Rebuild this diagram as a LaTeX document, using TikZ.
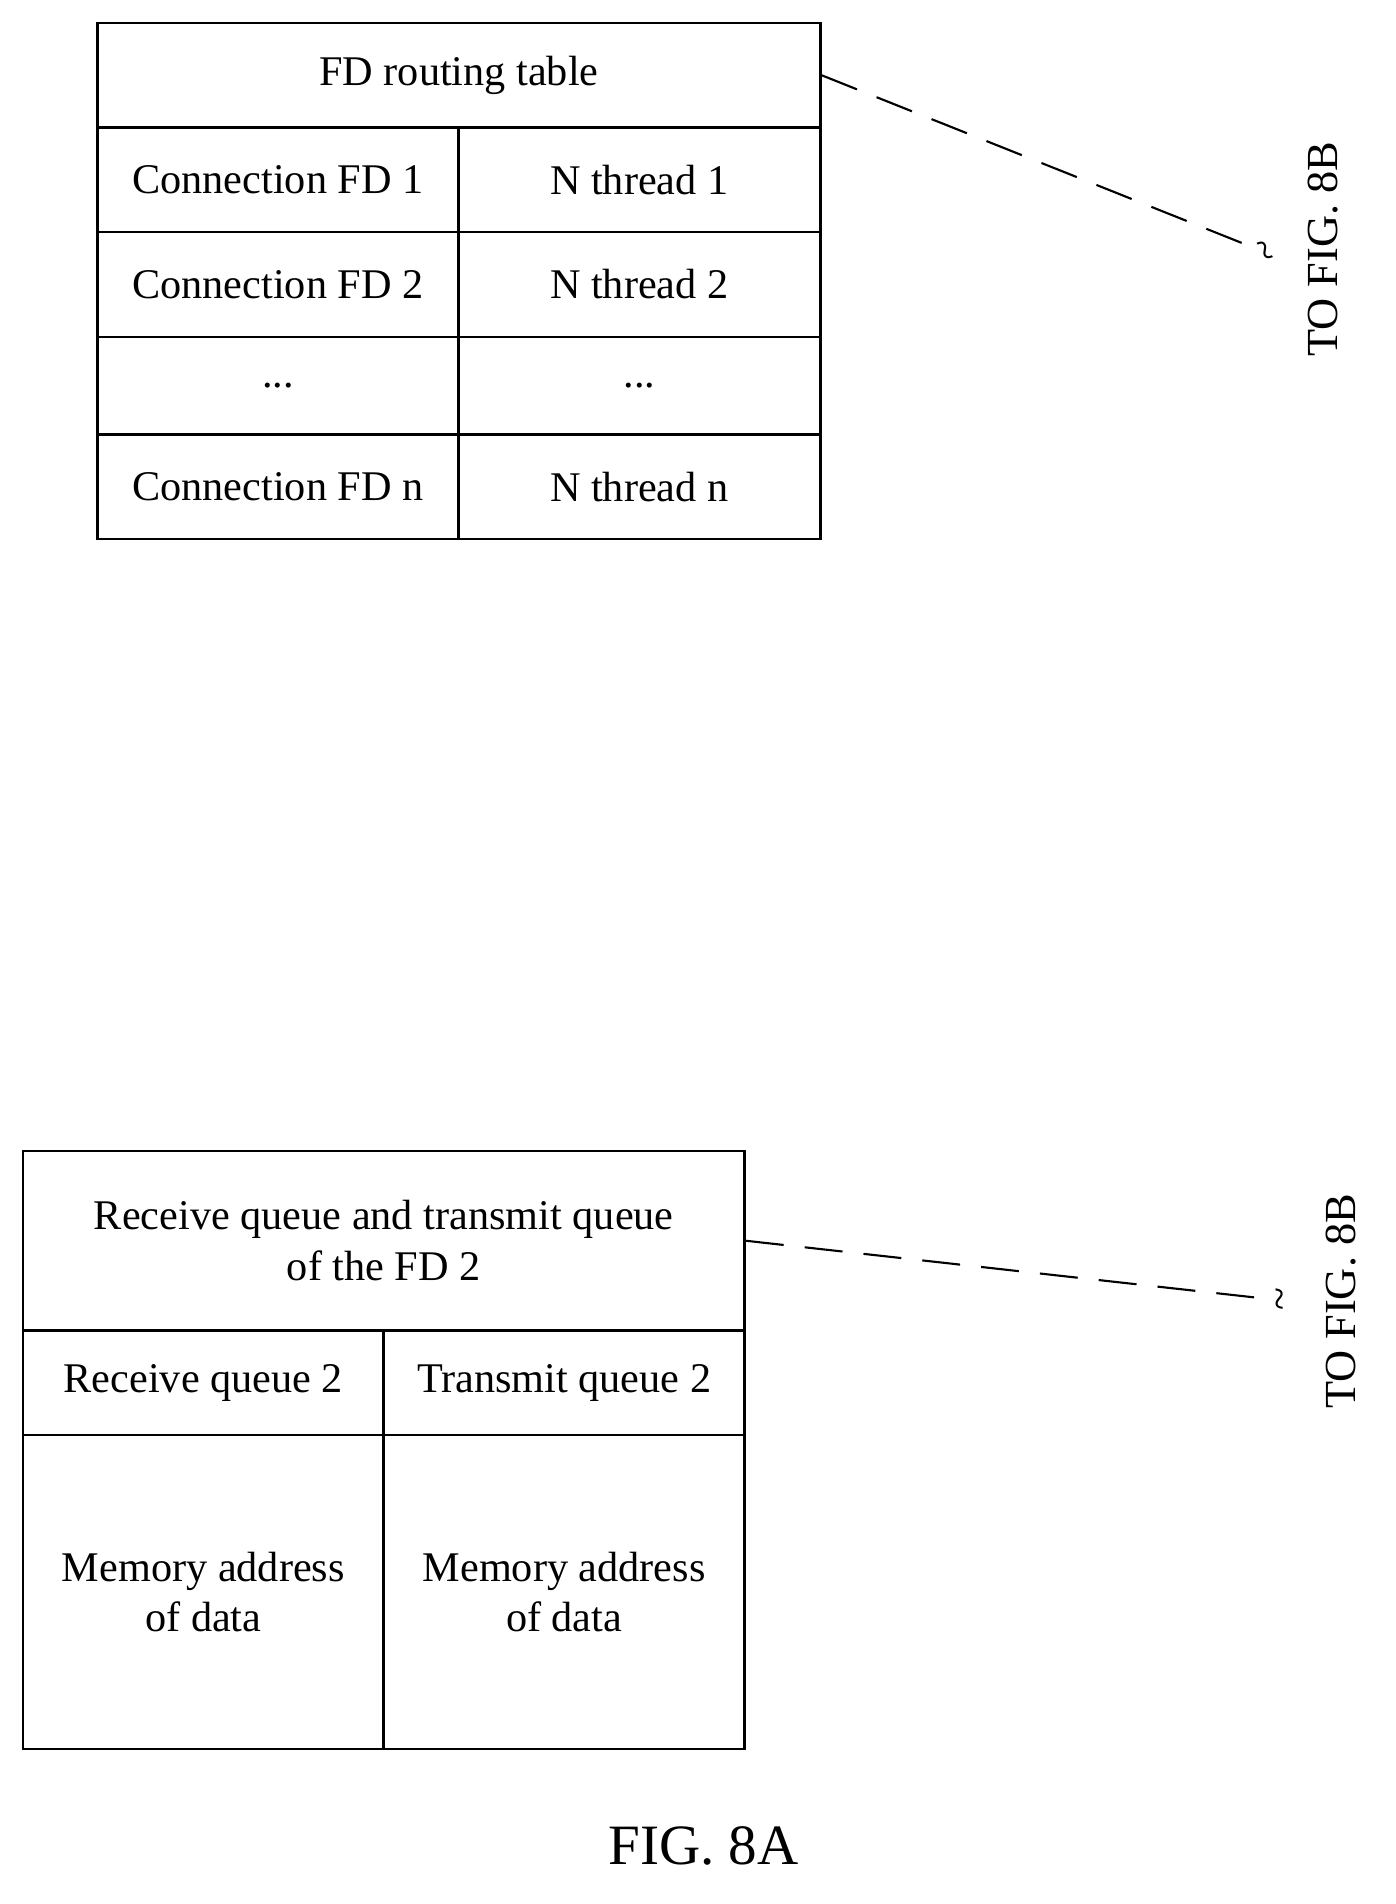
\documentclass[tikz,border=0pt]{standalone}
\usepackage{fontspec}
\setmainfont{Liberation Serif}
\begin{document}
\begin{tikzpicture}[x=0.02cm,y=-0.02cm,line width=1.2pt,
  cell/.style={draw,anchor=north west,inner sep=0pt,align=center,font=\fontsize{20}{24}\selectfont},
  link/.style={dashed,dash pattern=on 18pt off 10pt,line width=1pt},
  note/.style={rotate=90,font=\fontsize{21}{25}\selectfont}]
\useasboundingbox (0,0) rectangle (1160,1583);
% routing table
\node[cell,minimum width=601*0.02cm,minimum height=87*0.02cm] (rt) at (80,18) {FD routing table};
\node[cell,minimum width=300*0.02cm,minimum height=87*0.02cm] (c1) at (80,105) {Connection FD 1};
\node[cell,minimum width=301*0.02cm,minimum height=87*0.02cm] (t1) at (380,105) {N thread 1};
\node[cell,minimum width=300*0.02cm,minimum height=87*0.02cm] (c2) at (80,192) {Connection FD 2};
\node[cell,minimum width=301*0.02cm,minimum height=87*0.02cm] (t2) at (380,192) {N thread 2};
\node[cell,minimum width=300*0.02cm,minimum height=81*0.02cm] (c3) at (80,279) {...};
\node[cell,minimum width=301*0.02cm,minimum height=81*0.02cm] (t3) at (380,279) {...};
\node[cell,minimum width=300*0.02cm,minimum height=87*0.02cm] (cn) at (80,360) {Connection FD n};
\node[cell,minimum width=301*0.02cm,minimum height=87*0.02cm] (tn) at (380,360) {N thread n};
% queues
\node[cell,minimum width=600*0.02cm,minimum height=149*0.02cm] (qq) at (18,956) {Receive queue and transmit queue\\of the FD 2};
\node[cell,minimum width=300*0.02cm,minimum height=87*0.02cm] (rq) at (18,1105) {Receive queue 2};
\node[cell,minimum width=300*0.02cm,minimum height=87*0.02cm] (tq) at (318,1105) {Transmit queue 2};
\node[cell,minimum width=300*0.02cm,minimum height=261*0.02cm] (rm) at (18,1192) {Memory address\\of data};
\node[cell,minimum width=300*0.02cm,minimum height=261*0.02cm] (tm) at (318,1192) {Memory address\\of data};
% links
\coordinate (e1) at (1040,205);
\coordinate (e2) at (1055,1080);
\node[rotate=-60,inner sep=0pt,font=\fontsize{20}{24}\selectfont] (s1) at (1048,210) {\textasciitilde};
\node[rotate=90,inner sep=0pt,font=\fontsize{20}{24}\selectfont] (s2) at (1068,1080) {\textasciitilde};
\draw[link] (rt.east) -- (e1);
\draw[link] (qq.east) -- (e2);
\node[note] (f1) at (1100,207) {TO FIG. 8B};
\node[note] (f2) at (1115,1082) {TO FIG. 8B};
\node[font=\fontsize{27}{32}\selectfont] (cap) at (585,1535) {FIG. 8A};
\end{tikzpicture}
\end{document}
